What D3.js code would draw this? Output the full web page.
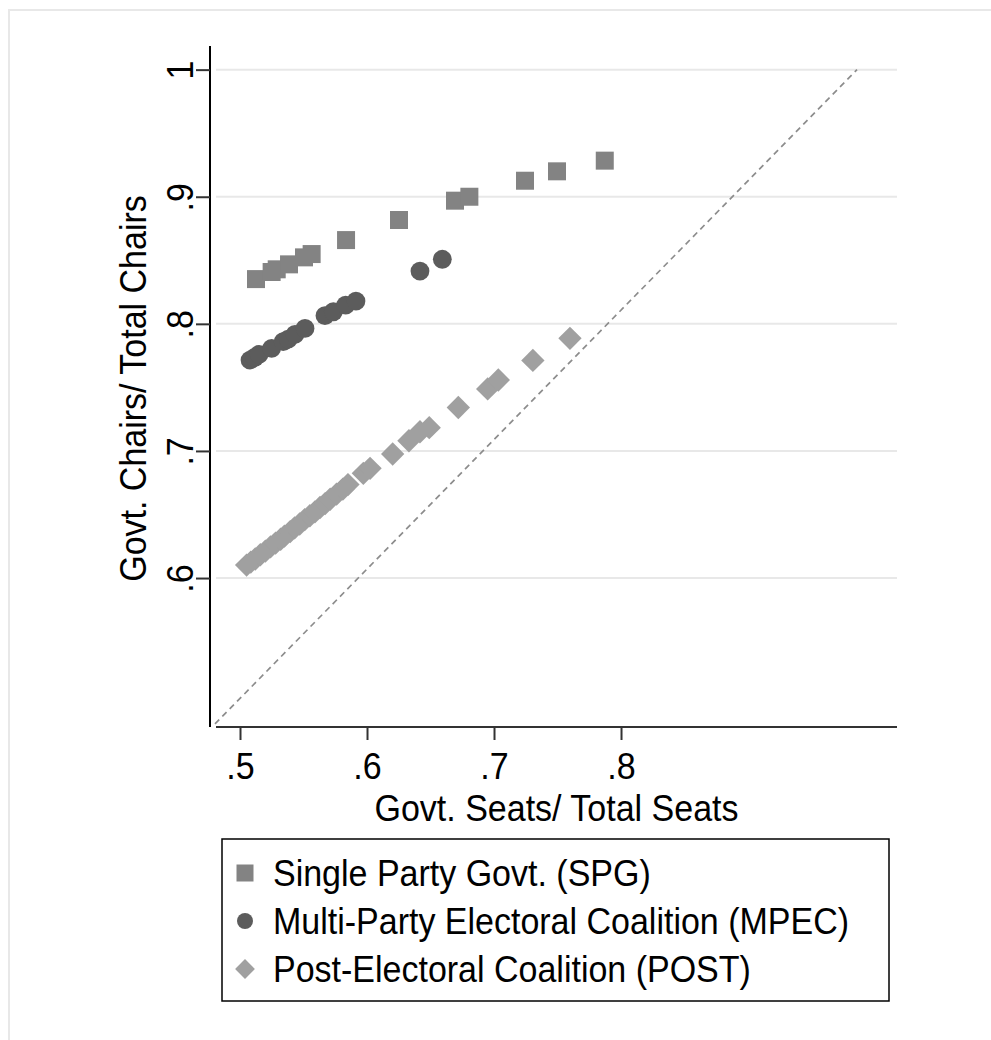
<!DOCTYPE html>
<html>
<head>
<meta charset="utf-8">
<script src="https://cdn.jsdelivr.net/npm/d3@7"></script>
<style>
  html, body { margin: 0; padding: 0; background: #ffffff; }
  svg { display: block; font-family: "Liberation Sans", Arial, sans-serif; }
</style>
</head>
<body>
<svg id="chart" width="991" height="1040"></svg>
<script>
// Single party governments: [seat share, chair share]
const spgPoints = [
  [0.5126, 0.8352], [0.5249, 0.8408], [0.5289, 0.8429], [0.5386, 0.8468],
  [0.5504, 0.8523], [0.5564, 0.8549], [0.5835, 0.8659], [0.6252, 0.8817],
  [0.6693, 0.8969], [0.6806, 0.9000], [0.7244, 0.9126], [0.7496, 0.9200],
  [0.7872, 0.9284]
];

// Multi-party electoral coalitions
const mpecPoints = [
  [0.5079, 0.7715], [0.5115, 0.7735], [0.5150, 0.7760], [0.5249, 0.7807],
  [0.5340, 0.7860], [0.5380, 0.7880], [0.5433, 0.7917], [0.5512, 0.7964],
  [0.5669, 0.8064], [0.5735, 0.8095], [0.5832, 0.8148], [0.5913, 0.8179],
  [0.6417, 0.8415], [0.6593, 0.8508]
];

// Post-electoral coalitions
const postPoints = [
  [0.5052, 0.6102], [0.5085, 0.6125], [0.5120, 0.6150], [0.5160, 0.6183],
  [0.5200, 0.6212], [0.5240, 0.6245], [0.5280, 0.6275], [0.5320, 0.6305],
  [0.5350, 0.6330], [0.5395, 0.6365], [0.5430, 0.6395], [0.5470, 0.6425],
  [0.5510, 0.6460], [0.5550, 0.6490], [0.5590, 0.6520], [0.5630, 0.6555],
  [0.5670, 0.6585], [0.5710, 0.6620], [0.5760, 0.6660], [0.5810, 0.6700],
  [0.5850, 0.6735], [0.5971, 0.6824], [0.6024, 0.6863], [0.6202, 0.6976],
  [0.6330, 0.7080], [0.6417, 0.7151], [0.6490, 0.7183], [0.6719, 0.7342],
  [0.6950, 0.7488], [0.7034, 0.7558], [0.7306, 0.7712], [0.7598, 0.7886]
];

// Dashed reference line endpoints
const refLine = [[0.4803, 0.4852], [0.9858, 1.0]];

const xTicks = [0.5, 0.6, 0.7, 0.8];
const yTicks = [0.6, 0.7, 0.8, 0.9, 1.0];
const tickLabel = v => (v === 1 ? "1" : d3.format(".1f")(v).replace(/^0/, ""));

const xTitle = "Govt. Seats/ Total Seats";
const yTitle = "Govt. Chairs/ Total Chairs";

const legendItems = [
  { label: "Single Party Govt. (SPG)", shape: "square" },
  { label: "Multi-Party Electoral Coalition (MPEC)", shape: "circle" },
  { label: "Post-Electoral Coalition (POST)", shape: "diamond" }
];

const colors = { square: "#838383", circle: "#5c5c5c", diamond: "#a0a0a0" };

// text is slightly narrow relative to its height
const FONT = "37px";
const SQUEEZE = "scale(0.919,1)";

const svg = d3.select("#chart");

// outer graph region frame
svg.append("rect")
  .attr("x", 9).attr("y", 10)
  .attr("width", 1000).attr("height", 1050)
  .attr("fill", "none").attr("stroke", "#e8e8e8").attr("stroke-width", 2);

const x = d3.scaleLinear().domain([0.4811, 1.0173]).range([216, 897]);
const y = d3.scaleLinear().domain([0.4828, 1.0186]).range([727, 46]);

// gridlines
svg.append("g").selectAll("line").data(yTicks).join("line")
  .attr("x1", 216).attr("x2", 897)
  .attr("y1", d => y(d)).attr("y2", d => y(d))
  .attr("stroke", "#e8e8e8").attr("stroke-width", 2);

// y axis
const yAxis = svg.append("g")
  .attr("transform", "translate(210,0)")
  .call(d3.axisLeft(y).tickValues(yTicks).tickSize(14).tickPadding(4).tickFormat(tickLabel));
yAxis.select(".domain").attr("d", `M0,${y.range()[1]}V${y.range()[0]}`)
  .attr("stroke", "#000").attr("stroke-width", 2);
yAxis.selectAll(".tick line").attr("stroke", "#333").attr("stroke-width", 2);
yAxis.selectAll(".tick text")
  .attr("x", null).attr("dy", null)
  .attr("transform", `translate(-17,0) rotate(-90) ${SQUEEZE}`)
  .attr("text-anchor", "middle")
  .attr("fill", "#000")
  .style("font-size", FONT);

// x axis
const xAxis = svg.append("g")
  .attr("transform", "translate(0,727)")
  .call(d3.axisBottom(x).tickValues(xTicks).tickSize(13).tickPadding(4).tickFormat(tickLabel));
xAxis.select(".domain").attr("d", `M${x.range()[0]},0H${x.range()[1]}`)
  .attr("stroke", "#333").attr("stroke-width", 2);
xAxis.selectAll(".tick line").attr("stroke", "#333").attr("stroke-width", 2);
xAxis.selectAll(".tick text")
  .attr("y", null).attr("dy", null)
  .attr("transform", `translate(0,52) ${SQUEEZE}`)
  .attr("fill", "#000")
  .style("font-size", FONT);

// axis titles
svg.append("text")
  .attr("transform", `translate(${(x.range()[0] + x.range()[1]) / 2},821) ${SQUEEZE}`)
  .attr("text-anchor", "middle").style("font-size", FONT)
  .text(xTitle);

svg.append("text")
  .attr("transform", `translate(146,${(y.range()[0] + y.range()[1]) / 2 + 2}) rotate(-90) ${SQUEEZE}`)
  .attr("text-anchor", "middle").style("font-size", FONT)
  .text(yTitle);

// reference line
svg.append("line")
  .attr("x1", x(refLine[0][0])).attr("y1", y(refLine[0][1]))
  .attr("x2", x(refLine[1][0])).attr("y2", y(refLine[1][1]))
  .attr("stroke", "#8c8c8c").attr("stroke-width", 1.7)
  .attr("stroke-dasharray", "6,4.5");

const symbolPath = {
  square: d3.symbol(d3.symbolSquare, 18 * 18)(),
  circle: d3.symbol(d3.symbolCircle, Math.PI * 9.4 * 9.4)(),
  diamond: d3.symbol(d3.symbolSquare, 16.5 * 16.5)()
};
const symbolRotate = { square: 0, circle: 0, diamond: 45 };

function drawSeries(data, shape) {
  svg.append("g").selectAll("path").data(data).join("path")
    .attr("d", symbolPath[shape])
    .attr("transform", d => `translate(${x(d[0])},${y(d[1])}) rotate(${symbolRotate[shape]})`)
    .attr("fill", colors[shape]);
}

drawSeries(postPoints, "diamond");
drawSeries(mpecPoints, "circle");
drawSeries(spgPoints, "square");

// legend
const legend = svg.append("g");
legend.append("rect")
  .attr("x", 222).attr("y", 839).attr("width", 667).attr("height", 162)
  .attr("fill", "#fff").attr("stroke", "#000").attr("stroke-width", 1.5);

const rows = legend.selectAll("g.row").data(legendItems).join("g")
  .attr("class", "row")
  .attr("transform", (d, i) => `translate(0,${873 + i * 48})`);

rows.append("path")
  .attr("d", d => d.shape === "diamond"
    ? d3.symbol(d3.symbolSquare, 14 * 14)()
    : d.shape === "circle"
      ? d3.symbol(d3.symbolCircle, Math.PI * 8 * 8)()
      : d3.symbol(d3.symbolSquare, 17 * 17)())
  .attr("transform", d => `translate(245,0) rotate(${symbolRotate[d.shape]})`)
  .attr("fill", d => colors[d.shape]);

rows.append("text")
  .attr("transform", `translate(273,13) ${SQUEEZE}`)
  .style("font-size", FONT)
  .text(d => d.label);
</script>
</body>
</html>
